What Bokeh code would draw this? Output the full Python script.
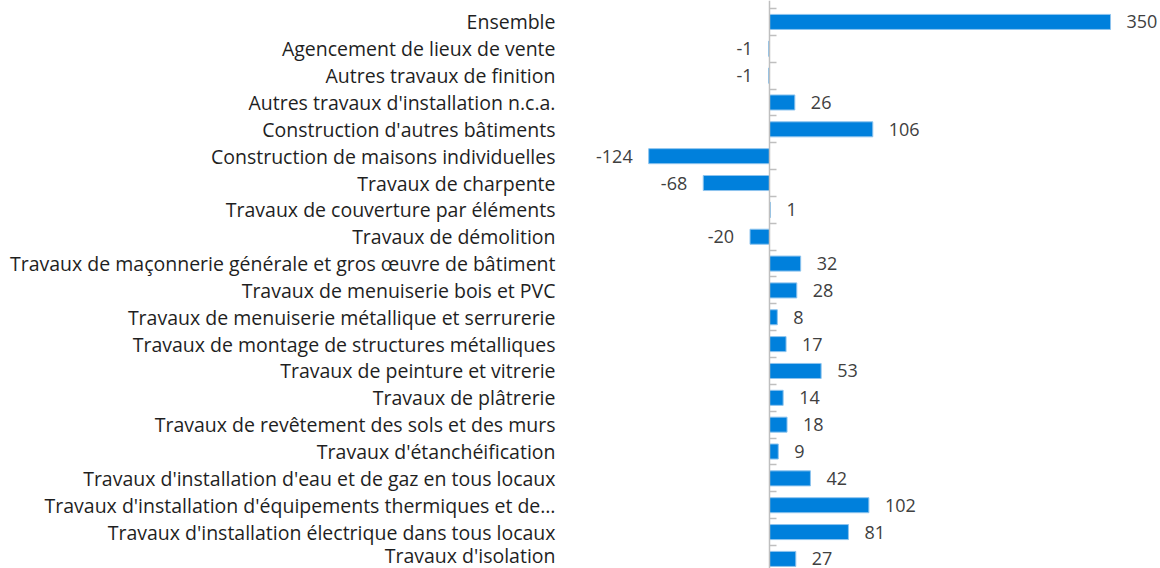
from bokeh.plotting import figure
from bokeh.models import ColumnDataSource, Range1d, FixedTicker, LinearAxis
from bokeh.core.properties import value
from bokeh.embed import file_html
from bokeh.resources import INLINE

categories = [
    "Ensemble",
    "Agencement de lieux de vente",
    "Autres travaux de finition",
    "Autres travaux d'installation n.c.a.",
    "Construction d'autres bâtiments",
    "Construction de maisons individuelles",
    "Travaux de charpente",
    "Travaux de couverture par éléments",
    "Travaux de démolition",
    "Travaux de maçonnerie générale et gros œuvre de bâtiment",
    "Travaux de menuiserie bois et PVC",
    "Travaux de menuiserie métallique et serrurerie",
    "Travaux de montage de structures métalliques",
    "Travaux de peinture et vitrerie",
    "Travaux de plâtrerie",
    "Travaux de revêtement des sols et des murs",
    "Travaux d'étanchéification",
    "Travaux d'installation d'eau et de gaz en tous locaux",
    "Travaux d'installation d'équipements thermiques et de…",
    "Travaux d'installation électrique dans tous locaux",
    "Travaux d'isolation",
]
values = [350, -1, -1, 26, 106, -124, -68, 1, -20, 32, 28, 8, 17, 53, 14, 18, 9, 42, 102, 81, 27]

FONT = "Open Sans"
idx = list(range(len(categories)))
pos = [v >= 0 for v in values]

src_pos = ColumnDataSource(dict(
    y=[i for i, p in zip(idx, pos) if p],
    v=[v for v, p in zip(values, pos) if p],
    t=[str(v) for v, p in zip(values, pos) if p],
))
src_neg = ColumnDataSource(dict(
    y=[i for i, p in zip(idx, pos) if not p],
    v=[v for v, p in zip(values, pos) if not p],
    t=[str(v) for v, p in zip(values, pos) if not p],
))

p = figure(
    width=1160, height=568,
    x_range=Range1d(-206.3, 401.3),
    y_range=Range1d(20.357, -0.798),
    output_backend="svg", toolbar_location=None,
    min_border_left=568, min_border_right=0, min_border_top=0, min_border_bottom=0,
    x_axis_location=None,
)
p.outline_line_color = None
p.grid.visible = False
p.background_fill_color = "white"
p.border_fill_color = "white"

bar_h = 0.56
for src in (src_pos, src_neg):
    p.hbar(y="y", left=0, right="v", height=bar_h, source=src,
           fill_color="#0080DC", line_color="#8EC4EE", line_width=1)

p.text(x="v", y="y", text="t", source=src_pos, x_offset=16,
       text_align="left", text_baseline="middle",
       text_font=value(FONT), text_font_size="18px", text_color="#404040")
p.text(x="v", y="y", text="t", source=src_neg, x_offset=-16,
       text_align="right", text_baseline="middle",
       text_font=value(FONT), text_font_size="18px", text_color="#404040")

# category labels axis
ya = p.yaxis[0]
ya.ticker = FixedTicker(ticks=idx)
ya.major_label_overrides = {i: c for i, c in zip(idx, categories)}
ya.axis_line_color = None
ya.major_tick_line_color = None
ya.minor_tick_line_color = None
ya.major_tick_out = 0
ya.major_tick_in = 0
ya.major_label_standoff = 13
ya.major_label_text_font = FONT
ya.major_label_text_font_size = "19.5px"
ya.major_label_text_color = "#1F1F1F"

# zero axis with boundary ticks
bounds = [i - 0.5 for i in range(len(categories) + 1)]
zax = LinearAxis(fixed_location=0, ticker=FixedTicker(ticks=bounds))
zax.axis_line_color = "#BFBFBF"
zax.axis_line_width = 1.5
zax.major_tick_line_color = "#BFBFBF"
zax.major_tick_line_width = 1.5
zax.major_tick_in = 7
zax.major_tick_out = 0
zax.minor_tick_line_color = None
zax.major_label_overrides = {b: "" for b in bounds}
zax.major_label_standoff = 0
p.add_layout(zax, "left")

open("out.html", "w").write(file_html(p, INLINE))
